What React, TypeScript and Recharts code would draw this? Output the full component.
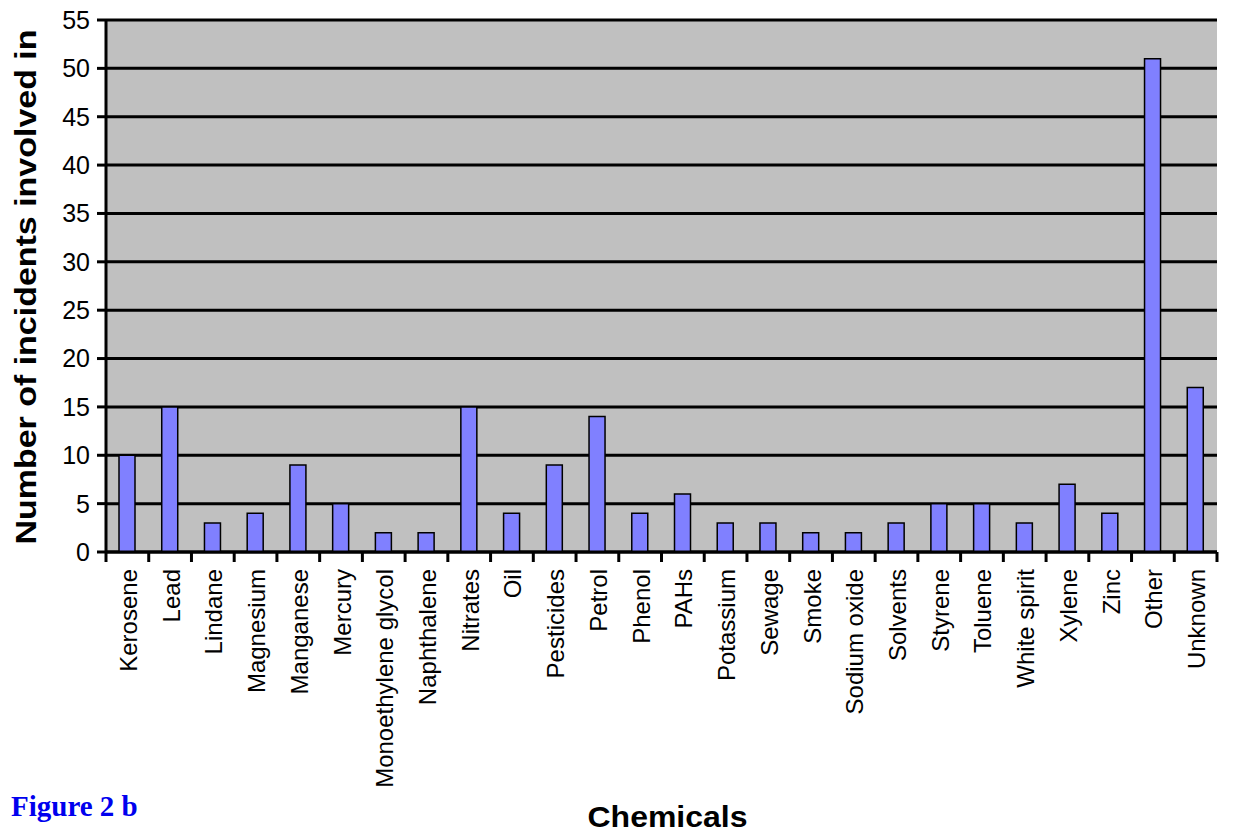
import { BarChart, Bar, XAxis, YAxis, CartesianGrid, Label } from "recharts";

const chemicals = [
  "Kerosene", "Lead", "Lindane", "Magnesium", "Manganese", "Mercury",
  "Monoethylene glycol", "Naphthalene", "Nitrates", "Oil", "Pesticides",
  "Petrol", "Phenol", "PAHs", "Potassium", "Sewage", "Smoke", "Sodium oxide",
  "Solvents", "Styrene", "Toluene", "White spirit", "Xylene", "Zinc", "Other",
  "Unknown",
];
const incidents = [
  10, 15, 3, 4, 9, 5, 2, 2, 15, 4, 9, 14, 4, 6, 3, 3, 2, 2, 3, 5, 5, 3, 7, 4,
  51, 17,
];
const yTicks = [0, 5, 10, 15, 20, 25, 30, 35, 40, 45, 50, 55];

const data = chemicals.map((name, i) => ({ name, value: incidents[i] }));

const W = 1233;
const H = 834;
const LEFT = 106;
const RIGHT = 16;
const PLOT_W = W - LEFT - RIGHT;
const BW = PLOT_W / chemicals.length;
const FONT = "'Liberation Sans', Arial, sans-serif";

const XTick = (props: any) => {
  const { x, y, payload, index } = props;
  const last = index === chemicals.length - 1;
  return (
    <g>
      <line x1={x - BW / 2} x2={x - BW / 2} y1={y} y2={y + 10} stroke="#000" strokeWidth={3} />
      {last && (
        <line x1={x + BW / 2} x2={x + BW / 2} y1={y} y2={y + 10} stroke="#000" strokeWidth={3} />
      )}
      <text
        x={x + 1}
        y={y + 17}
        transform={`rotate(-90, ${x + 1}, ${y + 17})`}
        textAnchor="end"
        dominantBaseline="central"
        fontFamily={FONT}
        fontSize={24}
        fill="#000"
      >
        {payload.value}
      </text>
    </g>
  );
};

export default function App() {
  return (
    <div style={{ position: "absolute", left: 0, top: 0, width: W, height: H, background: "#fff" }}>
      <BarChart
        width={W}
        height={H}
        data={data}
        margin={{ top: 20, right: RIGHT, bottom: 0, left: 0 }}
      >
        <CartesianGrid vertical={false} stroke="#000" strokeWidth={3} fill="#C0C0C0" />
        <XAxis
          dataKey="name"
          interval={0}
          height={282}
          tickSize={0}
          tickMargin={0}
          tickLine={false}
          tick={<XTick />}
          axisLine={{ stroke: "#000", strokeWidth: 3 }}
        >
          <Label
            content={(p: any) => {
              const vb = p.viewBox;
              return (
                <g>
                  <text
                    x={vb.x + vb.width / 2 + 6}
                    y={827}
                    textAnchor="middle"
                    fontFamily={FONT}
                    fontWeight="bold"
                    fontSize={30}
                    textLength={160}
                    lengthAdjust="spacingAndGlyphs"
                    fill="#000"
                  >
                    Chemicals
                  </text>
                  <text
                    x={11}
                    y={816}
                    fontFamily="'Liberation Serif', 'Times New Roman', serif"
                    fontWeight="bold"
                    fontSize={29}
                    fill="#0000EE"
                  >
                    Figure 2 b
                  </text>
                </g>
              );
            }}
          />
        </XAxis>
        <YAxis
          width={LEFT}
          domain={[0, 55]}
          ticks={yTicks}
          interval={0}
          tickSize={9}
          tickMargin={7}
          tickLine={{ stroke: "#000", strokeWidth: 3 }}
          axisLine={{ stroke: "#000", strokeWidth: 3 }}
          tick={{ fontFamily: FONT, fontSize: 25, fill: "#000" }}
        >
          <Label
            content={(p: any) => {
              const vb = p.viewBox;
              const cx = 36;
              const cy = vb.y + vb.height / 2 + 1;
              return (
                <text
                  x={cx}
                  y={cy}
                  transform={`rotate(-90, ${cx}, ${cy})`}
                  textAnchor="middle"
                  fontFamily={FONT}
                  fontWeight="bold"
                  fontSize={30}
                  textLength={515}
                  lengthAdjust="spacingAndGlyphs"
                  fill="#000"
                >
                  Number of incidents involved in
                </text>
              );
            }}
          />
        </YAxis>
        <YAxis
          yAxisId="r"
          orientation="right"
          width={0}
          tick={false}
          tickLine={false}
          axisLine={{ stroke: "#808080", strokeWidth: 1.5 }}
        />
        <Bar
          dataKey="value"
          fill="#8080FF"
          stroke="#000"
          strokeWidth={1.5}
          barSize={16}
          isAnimationActive={false}
        />
      </BarChart>
    </div>
  );
}
